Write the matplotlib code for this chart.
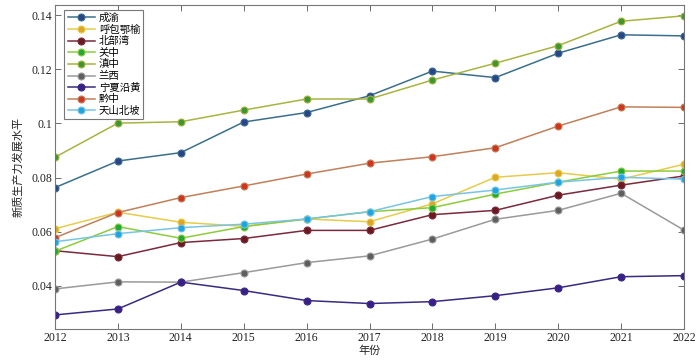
import matplotlib
matplotlib.use("Agg")
import matplotlib.pyplot as plt
from matplotlib.ticker import FixedLocator, FuncFormatter

plt.rcParams['font.family'] = ['Liberation Serif', 'Noto Sans CJK SC']

years = [2012, 2013, 2014, 2015, 2016, 2017, 2018, 2019, 2020, 2021, 2022]
regions = ['成渝', '呼包鄂榆', '北部湾', '关中', '滇中', '兰西', '宁夏沿黄', '黔中', '天山北坡']

chengyu   = [0.0763, 0.0861, 0.0892, 0.1005, 0.1040, 0.1102, 0.1193, 0.1169, 0.1259, 0.1327, 0.1323]
hubaoeyu  = [0.0611, 0.0672, 0.0635, 0.0620, 0.0647, 0.0637, 0.0703, 0.0801, 0.0818, 0.0794, 0.0849]
beibuwan  = [0.0530, 0.0508, 0.0560, 0.0575, 0.0605, 0.0605, 0.0663, 0.0679, 0.0735, 0.0772, 0.0806]
guanzhong = [0.0528, 0.0619, 0.0576, 0.0619, 0.0647, 0.0674, 0.0689, 0.0739, 0.0783, 0.0824, 0.0824]
dianzhong = [0.0875, 0.1001, 0.1006, 0.1049, 0.1090, 0.1090, 0.1160, 0.1222, 0.1287, 0.1377, 0.1397]
lanxi     = [0.0389, 0.0415, 0.0414, 0.0449, 0.0486, 0.0511, 0.0573, 0.0646, 0.0679, 0.0742, 0.0606]
ningxia   = [0.0293, 0.0315, 0.0414, 0.0383, 0.0346, 0.0335, 0.0342, 0.0364, 0.0393, 0.0434, 0.0438]
qianzhong = [0.0578, 0.0671, 0.0726, 0.0769, 0.0813, 0.0853, 0.0877, 0.0910, 0.0990, 0.1061, 0.1059]
tianshan  = [0.0563, 0.0593, 0.0615, 0.0628, 0.0647, 0.0674, 0.0730, 0.0754, 0.0783, 0.0801, 0.0794]

series = [chengyu, hubaoeyu, beibuwan, guanzhong, dianzhong, lanxi, ningxia, qianzhong, tianshan]
line_colors = ['#3a6f8c', '#e6cc4a', '#7a2a3c', '#8ccc3c', '#a8b440', '#9a9a9a', '#3a2a80', '#c0805a', '#78c4e4']
face_colors = ['#2a4488', '#e0a428', '#6a1a1e', '#22a83a', '#3e9632', '#5e5e5e', '#3a1e8a', '#d0341e', '#1ea4e0']

fig = plt.figure(figsize=(7.0, 3.63), dpi=100)
ax = fig.add_axes([55/700, 1-329/363, (684-55)/700, (329-5)/363])

for name, vals, lc, fc in zip(regions, series, line_colors, face_colors):
    ax.plot(years, vals, '-o', color=lc, lw=1.1, markersize=5,
            markerfacecolor=fc, markeredgecolor=lc, markeredgewidth=0.8, label=name)

ax.set_xlim(2012, 2022)
ax.set_ylim(0.0241, 0.1437)
ax.xaxis.set_major_locator(FixedLocator(years))
ax.yaxis.set_major_locator(FixedLocator([0.04, 0.06, 0.08, 0.1, 0.12, 0.14]))
ax.yaxis.set_major_formatter(FuncFormatter(lambda v, p: ('%.2f' % v).rstrip('0')))
ax.tick_params(direction='in', top=True, right=True, length=4, width=0.6,
               color='#555555', labelsize=8.5, labelcolor='#222222', pad=2)
for s in ax.spines.values():
    s.set_color('#777777')
    s.set_linewidth(0.8)

ax.set_xlabel('年份', fontsize=8, labelpad=1, color='#222222')
ax.set_ylabel('新质生产力发展水平', fontsize=8, labelpad=6, color='#222222')

leg = ax.legend(loc='upper left', bbox_to_anchor=(0.015, 0.985), fontsize=7.5,
                frameon=True, fancybox=False, edgecolor='#777777', framealpha=1,
                handlelength=2.6, handletextpad=0.4, labelspacing=0.15,
                borderpad=0.3, borderaxespad=0)
leg.get_frame().set_linewidth(0.8)

fig.savefig('out.png', dpi=100)
